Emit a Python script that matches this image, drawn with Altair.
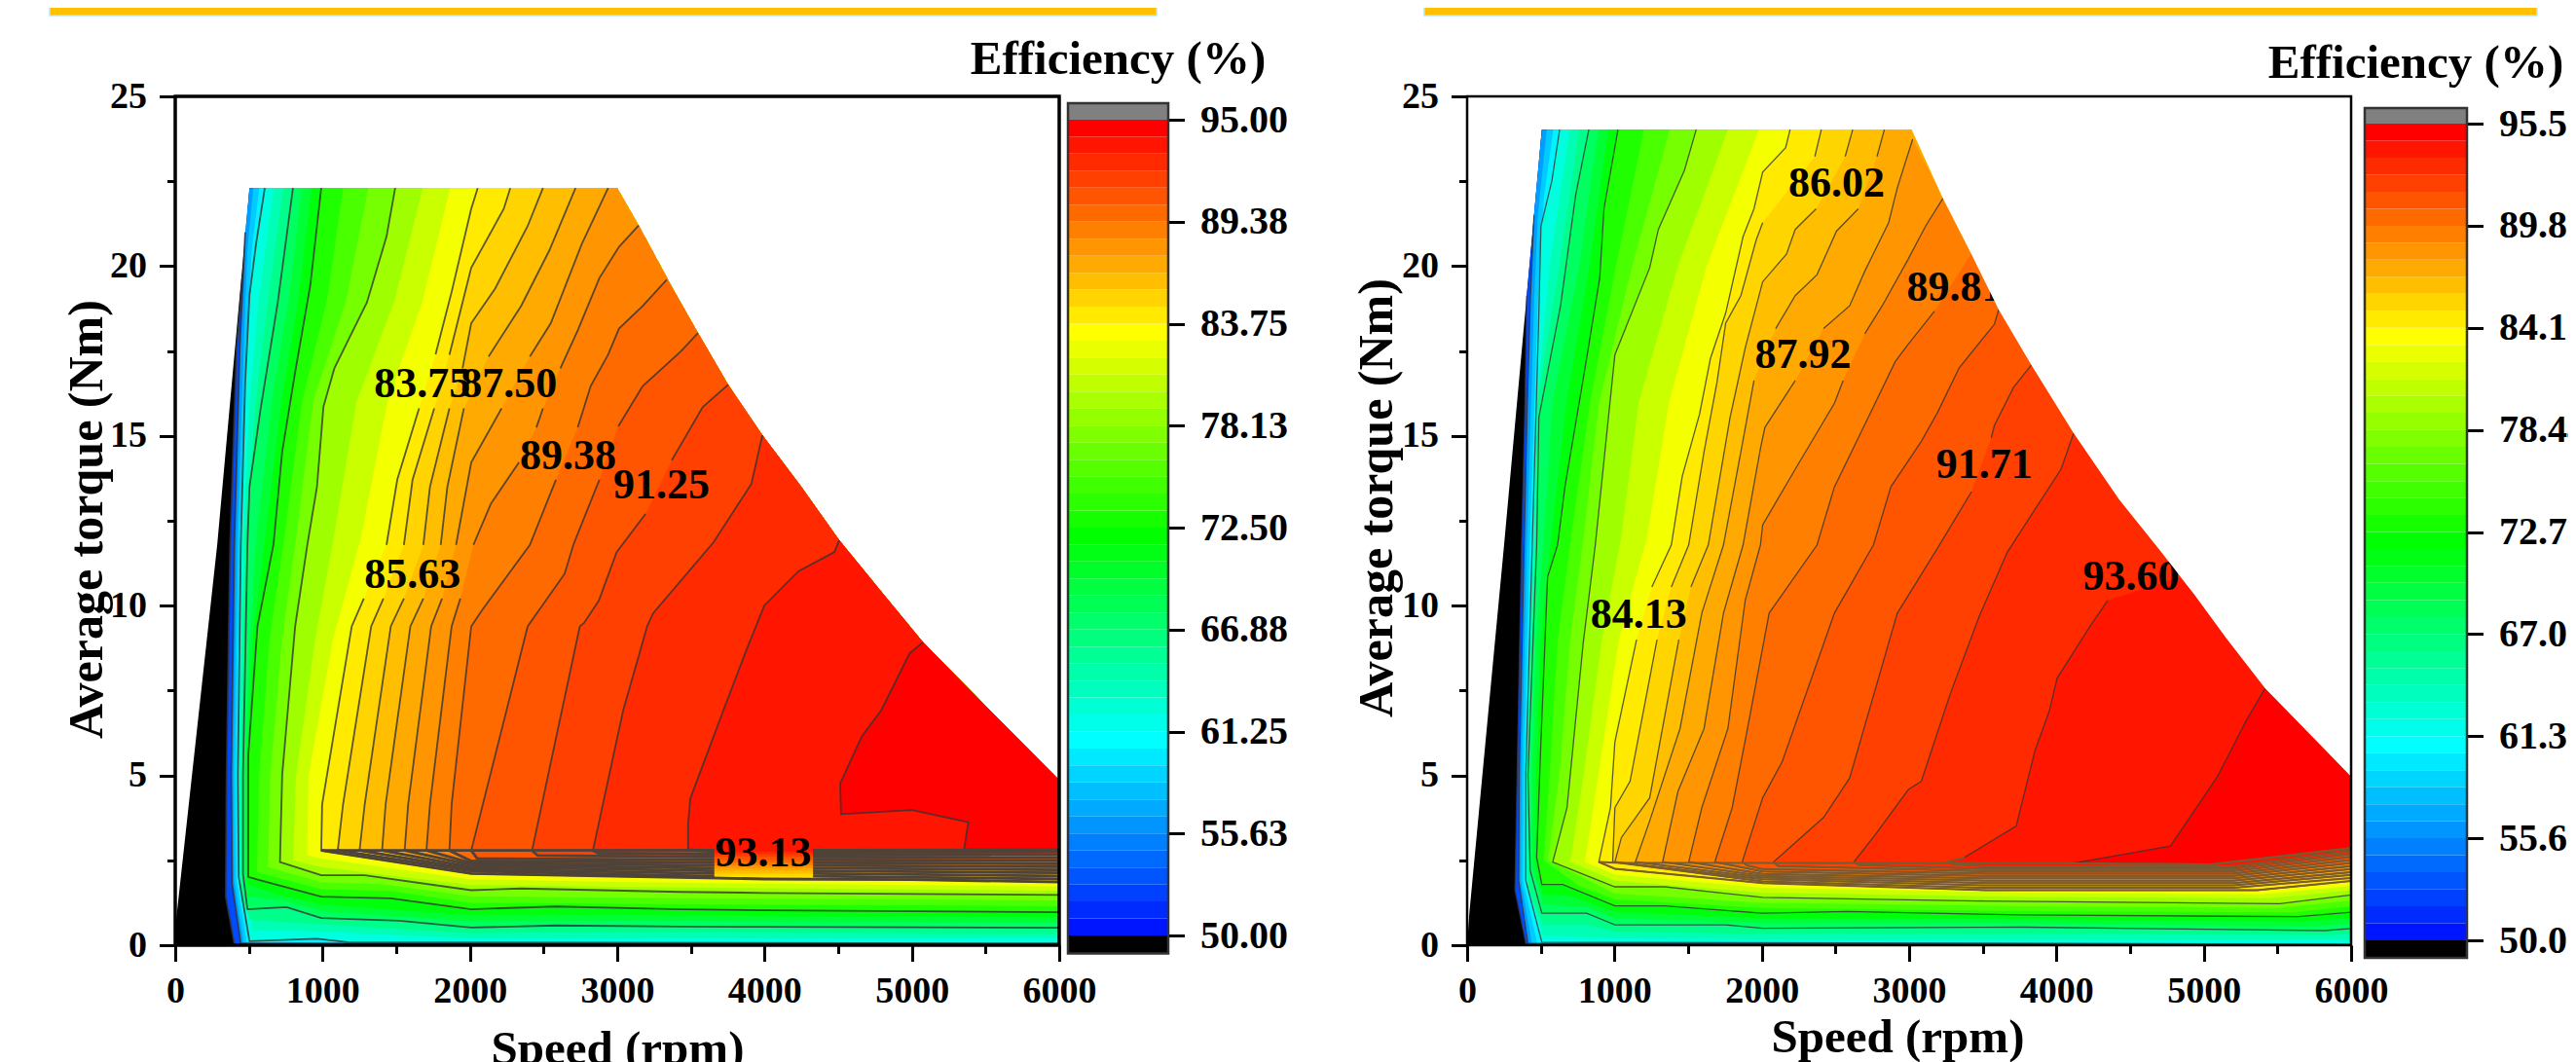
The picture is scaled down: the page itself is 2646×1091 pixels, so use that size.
import altair as alt
import pandas as pd

W, H = 2630, 1083
N = None

# ---------- left panel ----------
P1_TICKS = [50.00, 55.63, 61.25, 66.88, 72.50, 78.13, 83.75, 89.38, 95.00]
P1_BANDS = [50.00,50.94,51.88,52.81,53.75,54.69,55.63,56.56,57.50,58.44,59.38,60.31,61.25,62.19,63.13,64.06,65.00,65.94,66.88,67.81,68.75,69.69,70.63,71.56,72.50,73.44,74.38,75.31,76.25,77.19,78.13,79.06,80.00,80.94,81.88,82.81,83.75,84.69,85.63,86.56,87.50,88.44,89.38,90.31,91.25,92.19,93.13,94.06,95.00]
P1_ENV = [(504,22.3),(3000,22.3),(3145,21.2),(3390,19.24),(3548,18.03),(3753,16.51),(3985,15.02),(4249,13.5),(4507,11.93),(4804,10.35),(5075,8.92),(5531,6.91),(6000,4.86)]
P1_LEFT = [(0,0),(5,0.7),(285,11.8)]
P1_EDGE = [(991,2.79),(3658,2.8),N,(4330,2.8),(6000,2.81)]
P1_CONTOURS = {
 50.00:[(456,19.7),(416,17.6),(372,11.8),(348,5),(342,1.43),(401,.03),(6000,0)],
 55.63:[(475,21.0),(462,19.8),(438,17.6),(401,11.8),(380,5),(386,1.8),(445,.05),(6000,.02)],
 61.25:[(608,22.3),(549,20.67),(504,19.14),(475,16.58),(445,11.8),(425,5),(431,2.01),(504,.12),(962,.19),(1168,.09),(6000,.05)],
 66.88:[(799,22.3),(696,18.93),(578,15.76),(504,13.5),(490,11.8),(460,5),(460,2.1),(490,1.06),(755,1.12),(991,.8),(1522,.72),(2009,.52),(2584,.58),(3434,.55),(4000,.54),(6000,.51)],
 72.50:[(991,22.3),(917,19.44),(814,16.88),(726,14.53),(667,11.8),(558,9.39),(496,5.6),(496,2.01),(578,1.91),(991,1.43),(1463,1.38),(2009,1.06),(2584,1.14),(3434,1.06),(4000,1.03),(6000,.97)],
 78.13:[(1493,22.3),(1434,20.87),(1301,18.93),(1080,16.99),(1006,15.86),(962,13.5),(897,11.8),(814,9.39),(726,5.02),(711,2.45),(991,2.06),(1286,2.06),(2009,1.62),(2348,1.67),(3434,1.57),(4000,1.54),(6000,1.48)],
 83.75:[(2053,22.3),(2009,21.69),(1876,19.24),(1767,17.4),N,(1655,15.81),(1507,13.71),(1434,11.79),N,(1280,10.21),(1198,9.39),(997,4.15),(991,2.79),(2009,2.11),(3434,2.0),(4000,1.95),(5000,1.93),(6000,1.86)],
 84.69:[(2274,22.3),(2230,21.69),(2009,19.95),(1861,17.39),N,(1758,15.81),(1611,13.71),(1552,11.79),N,(1413,10.21),(1330,9.39),(1139,4.15),(1103,2.79),(2009,2.18),(3658,2.03),N,(4330,2.03),(6000,1.95)],
 85.63:[(2496,22.3),(2392,21.18),(2171,19.34),(2009,18.32),(1950,16.99),N,(1861,15.81),(1729,13.5),(1684,11.79),N,(1552,10.21),(1463,9.39),(1286,4.15),(1251,2.79),(2009,2.24),(3658,2.11),N,(4330,2.11),(6000,2.04)],
 86.56:[(2717,22.3),(2540,20.47),(2348,18.83),(2127,17.34),N,(1959,15.81),(1847,13.5),(1802,11.79),N,(1684,10.21),(1596,9.39),(1428,4.15),(1404,2.79),(2009,2.30),(3658,2.19),N,(4330,2.19),(6000,2.13)],
 87.50:[(2938,22.3),(2761,20.67),(2549,18.32),(2407,17.34),N,(2215,15.81),(2009,14.22),(1906,11.79),N,(1811,10.21),(1737,9.39),(1581,4.15),(1557,2.79),(2009,2.36),(3658,2.27),N,(4330,2.27),(6000,2.22)],
 88.44:[(3145,21.2),(3012,20.57),(2879,19.65),(2732,18.11),(2614,16.99),N,(2496,15.81),(2451,15.25),N,(2333,14.22),(2142,13.0),(2024,11.79),N,(1935,10.21),(1876,9.39),(1729,4.15),(1705,2.79),(2009,2.42),(3658,2.35),N,(4330,2.35),(6000,2.31)],
 89.38:[(3336,19.6),(3174,18.83),(3012,18.16),(2938,17.39),(2820,16.47),(2732,15.25),N,(2584,13.71),(2407,11.79),(2083,9.87),(2009,9.39),(1876,4.15),(1861,2.79),(2009,2.48),(3658,2.43),N,(4330,2.43),(6000,2.40)],
 90.31:[(3548,18.03),(3434,17.5),(3172,16.46),(3007,15.28),N,(2879,13.71),(2702,11.79),(2643,10.94),(2392,9.39),(2088,4.15),(2009,2.79),(2050,2.55),(3658,2.51),N,(4330,2.51),(6000,2.49)],
 91.25:[(3753,16.51),(3581,15.85),(3370,14.28),N,(3192,12.7),(2996,11.58),(2875,10.15),(2775,9.49),(2746,9.39),(2422,2.79),(2460,2.64),(3658,2.60),N,(4330,2.60),(6000,2.58)],
 92.19:[(3985,15.02),(3911,13.59),(3654,11.87),(3244,9.78),(3203,9.39),(3040,6.91),(2835,2.79),(2870,2.71),(3658,2.68),N,(4330,2.68),(6000,2.67)],
 93.13:[(4507,11.93),(4474,11.58),(4229,11.01),(3998,10.0),(3879,8.72),(3720,6.91),(3496,4.32),(3481,3.57),(3481,2.81),(3658,2.76),N,(4330,2.76),(6000,2.76)],
 94.06:[(5075,8.92),(4985,8.6),(4791,6.91),(4661,6.16),(4513,4.76),(4519,3.86),(5000,3.98),(5383,3.62),(5354,2.81),(6000,2.81)],
}
# colour steps seen between the drawn contour lines (no line of their own)
P1_SHADES = {
 57.50:[(530,22.3),(490,20.5),(468,18),(420,11.8),(395,5),(400,1.9),(465,.05),(6000,.03)],
 59.38:[(570,22.3),(520,20.5),(488,18),(435,11.8),(410,5),(415,1.95),(485,.09),(6000,.04)],
 63.13:[(668,22.3),(565,19),(505,16),(460,12),(445,9),(435,5),(440,1.8),(530,.45),(1000,.4),(2000,.2),(3000,.2),(6000,.2)],
 65.00:[(733,22.3),(630,19),(545,16),(475,12),(458,9),(447,5),(450,1.4),(510,.75),(1000,.6),(2000,.36),(3000,.38),(6000,.35)],
 68.75:[(860,22.3),(770,19),(655,16),(550,12),(505,9),(472,5),(480,1.45),(750,1.3),(991,1.0),(2000,.7),(3000,.72),(6000,.66)],
 70.63:[(925,22.3),(835,19),(720,16),(610,12),(525,9),(482,5),(488,1.8),(700,1.5),(991,1.2),(2000,.88),(3000,.89),(6000,.82)],
 74.38:[(1140,22.3),(1030,19),(860,16),(740,12),(640,9),(570,5),(555,2.15),(991,1.65),(1463,1.6),(2000,1.25),(3000,1.22),(6000,1.15)],
 76.25:[(1310,22.3),(1160,19),(935,16),(820,12),(725,9),(645,5),(630,2.3),(991,1.85),(1400,1.8),(2000,1.44),(3000,1.4),(6000,1.32)],
 80.00:[(1680,22.3),(1490,19),(1230,16),(1075,12),(950,9),(820,5),(800,2.5),(991,2.3),(2000,1.78),(3000,1.72),(6000,1.6)],
 81.88:[(1865,22.3),(1680,19),(1440,16),(1260,12),(1070,9),(905,5),(895,2.65),(991,2.55),(2000,1.94),(3000,1.86),(6000,1.73)],
}
P1_LABELS = [("83.75",1676,16.5),("87.50",2265,16.5),("85.63",1610,10.9),("89.38",2667,14.4),("91.25",3301,13.54),("93.13",3991,2.7)]

# ---------- right panel ----------
P2_TICKS = [50.00, 55.69, 61.38, 67.06, 72.75, 78.44, 84.13, 89.81, 95.50]
P2_BANDS = [50.00,50.95,51.90,52.84,53.79,54.74,55.69,56.64,57.58,58.53,59.48,60.43,61.38,62.32,63.27,64.22,65.17,66.11,67.06,68.01,68.96,69.91,70.85,71.80,72.75,73.70,74.65,75.59,76.54,77.49,78.44,79.39,80.33,81.28,82.23,83.18,84.13,85.07,86.02,86.97,87.92,88.86,89.81,90.76,91.71,92.66,93.60,94.55,95.50]
P2_ENV = [(507,24.02),(3018,24.02),(3230,22.0),(3422,20.36),(3608,18.72),(3830,17.09),(4117,15.08),(4425,13.13),(4711,11.58),(4932,10.35),(5174,8.92),(5416,7.57),(6000,4.97)]
P2_LEFT = [(0,0),(15,.94),(251,11.8)]
P2_EDGE = [(894,2.45),(1003,2.43),(4110,2.41),(5055,2.38),(6000,2.86)]
P2_CONTOURS = {
 50.00:[(404,19.13),(392,15.86),(369,11.8),(339,5.02),(324,1.62),(398,.05),(6000,0)],
 55.69:[(454,21.5),(430,19.13),(408,15.86),(387,11.79),(354,5.02),(350,1.9),(413,.05),(6000,.01)],
 61.38:[(628,24.02),(575,22.51),(501,21.18),(487,18.62),(442,11.79),(398,5.02),(398,1.91),(507,.09),(6000,.03)],
 67.06:[(826,24.02),(737,22.1),(634,18.83),(487,15.55),(472,11.79),(413,5.02),(428,2.2),(507,.94),(811,.94),(1003,.6),(1755,.6),(2006,.5),(3785,.53),(5821,.43),(6000,.49)],
 72.75:[(1024,24.02),(929,21.69),(900,19.65),(796,16.88),(664,13.5),(614,11.79),(546,10.84),(501,5.99),(472,2.59),(507,1.79),(649,1.79),(1003,1.16),(1342,1.16),(2006,.94),(2581,.99),(3785,.89),(5642,.84),(6000,.97)],
 78.44:[(1555,24.02),(1475,22.82),(1298,21.08),(1239,19.95),(1003,17.39),(870,11.79),(788,8.9),(678,4.05),(581,2.45),(1003,1.72),(1342,1.72),(2006,1.41),(3522,1.3),(5515,1.22),(6000,1.48)],
 84.13:[(2192,24.02),(2162,23.49),(2006,22.77),(1947,21.69),(1873,20.87),(1755,18.62),(1652,17.29),(1578,15.65),(1460,13.81),(1386,11.79),(1254,10.55),N,(1150,9.0),(1003,5.99),(973,4.05),(894,2.45),(1003,2.25),(2006,1.83),(3522,1.62),(5361,1.62),(6000,1.89)],
 85.07:[(2404,24.02),(2360,23.23),N,(2006,21.28),(1962,20.77),(1858,19.13),(1755,18.32),(1696,16.58),(1608,14.53),(1504,11.79),(1386,10.55),N,(1289,9.0),(1106,4.83),(1003,4.05),(988,2.45),(2006,1.88),(3522,1.69),(5200,1.69),(6000,1.98)],
 86.02:[(2617,24.02),(2566,23.23),N,(2369,21.69),(2227,21.08),(2168,20.36),(2006,19.54),(1888,17.6),(1785,15.55),(1637,11.79),(1519,10.55),N,(1437,9.0),(1239,4.34),(1047,3.17),(1003,2.45),(2006,1.94),(3522,1.76),(5200,1.76),(6000,2.07)],
 86.97:[(2832,24.02),(2782,23.23),N,(2655,21.69),(2507,21.03),(2375,19.75),(2227,19.13),(2094,18.16),N,(1947,16.63),(1858,14.53),(1740,11.79),(1593,9.78),(1445,6.38),(1239,3.66),(1142,2.45),(2006,1.99),(3522,1.83),(5200,1.83),(6000,2.15)],
 87.92:[(3024,23.74),(2920,22.31),(2861,21.28),(2699,19.85),(2596,18.83),(2419,18.16),N,(2227,16.63),(2021,15.25),(1991,14.63),(1873,11.79),(1740,9.78),(1608,6.38),(1431,4.53),(1327,2.45),(2006,2.04),(3522,1.90),(5200,1.90),(6000,2.24)],
 88.86:[(3230,22.0),(3112,21.18),(2994,20.21),(2817,18.83),(2699,18.01),N,(2552,16.63),(2493,15.96),(2227,14.02),(2006,12.38),(1991,11.79),(1888,10.17),(1770,6.38),(1593,4.05),(1504,2.45),(2006,2.10),(3522,1.97),(5200,1.97),(6000,2.33)],
 89.81:[(3422,20.36),N,(3171,18.67),(2994,17.7),(2906,17.19),(2758,15.86),(2493,13.5),(2375,11.79),(2050,9.78),(1903,6.38),(1799,4.05),(1681,2.45),(2006,2.17),(3522,2.04),(5200,2.04),(6000,2.42)],
 90.76:[(3608,18.72),(3579,18.29),(3339,17.0),(3194,15.7),(3083,14.84),(2876,13.5),(2758,11.79),(2493,9.78),(2139,5.41),(2006,4.34),(1867,2.45),(1900,2.35),(2006,2.24),(3522,2.11),(5200,2.11),(6000,2.51)],
 91.71:[(3830,17.09),(3709,16.43),(3579,15.31),(3557,14.94),N,(3424,13.36),(3194,11.7),(2920,9.78),(2596,4.92),(2419,3.76),(2080,2.45),(2110,2.33),(3522,2.18),(5200,2.18),(6000,2.60)],
 92.66:[(4117,15.08),(4031,14.02),(3667,11.58),(3476,9.69),(3279,7.4),(3083,4.83),(2994,4.58),(2773,3.27),(2625,2.45),(2660,2.36),(3522,2.25),(5200,2.25),(6000,2.69)],
 93.60:[(4832,10.84),N,(4348,10.15),(4229,9.4),(4004,7.86),(3952,6.9),(3854,5.73),(3727,3.51),(3378,2.59),(3260,2.45),(3290,2.40),(3522,2.32),(5200,2.32),(6000,2.78)],
 94.55:[(5416,7.57),(5285,6.59),(5093,4.97),(4774,2.92),(4110,2.41),(5055,2.38),(6000,2.86)],
}
P2_SHADES = {
 57.58:[(540,24.02),(480,21.5),(455,19),(405,11.8),(370,5),(365,1.9),(440,.05),(6000,.02)],
 59.48:[(585,24.02),(520,22),(480,19),(425,11.8),(385,5),(380,1.9),(475,.07),(6000,.03)],
 63.27:[(695,24.02),(560,20),(473,16),(452,12),(428,9),(403,5),(405,1.8),(520,.28),(1003,.2),(2006,.17),(3785,.17),(6000,.16)],
 65.17:[(760,24.02),(625,20),(477,16),(462,12),(434,9),(408,5),(415,1.6),(515,.6),(811,.6),(1003,.4),(2006,.33),(3785,.35),(5821,.3),(6000,.33)],
 68.96:[(890,24.02),(760,20),(580,16),(520,12),(470,9),(440,5),(445,2.3),(520,1.2),(811,1.12),(1003,.79),(2006,.65),(3785,.65),(5800,.55),(6000,.65)],
 70.85:[(957,24.02),(830,20),(675,16),(570,12),(500,9),(468,5),(460,2.45),(515,1.5),(700,1.45),(1003,.98),(2006,.79),(3785,.77),(5700,.7),(6000,.81)],
 74.65:[(1200,24.02),(1010,20),(835,16),(705,12),(615,9),(560,5),(520,2.5),(760,1.75),(1003,1.35),(2006,1.1),(3785,1.0),(5600,.97),(6000,1.14)],
 76.54:[(1375,24.02),(1120,20),(895,16),(790,12),(700,9),(625,5),(550,2.5),(850,1.85),(1003,1.52),(2006,1.25),(3785,1.15),(5500,1.1),(6000,1.31)],
 80.33:[(1770,24.02),(1430,20),(1165,16),(1045,12),(915,9),(790,5),(700,2.45),(1003,1.9),(2006,1.55),(3785,1.42),(5450,1.38),(6000,1.62)],
 82.23:[(1980,24.02),(1625,20),(1370,16),(1220,12),(1030,9),(890,5),(800,2.45),(1003,2.08),(2006,1.69),(3785,1.55),(5400,1.5),(6000,1.75)],
}
P2_LABELS = [("84.13",1165,9.73),("86.02",2507,22.41),("87.92",2280,17.37),("89.81",3310,19.34),("91.71",3510,14.12),("93.60",4506,10.83)]

SERIF = "Liberation Serif"
RAMP = ["#0000ff", "#00ffff", "#00ff00", "#ffff00", "#ff0000"]


def panel(contours, shades, env, left, bands, ticks, labels, px, bar, frame_w, ytitle, xtitle, strip, mask, effy, band):
    x0, x1 = px
    y0, y1 = 971 - 8, 99 - 8
    xr = [x0 - 8, x1 - 8]
    yr = [y0, y1]
    xs = alt.Scale(domain=[0, 6000], range=xr, nice=False, zero=False)
    ys = alt.Scale(domain=[0, 25], range=yr, nice=False, zero=False)
    lo, hi = bands[0], bands[-1]
    cs = alt.Scale(domain=[lo, lo + (hi - lo) / 4, lo + (hi - lo) / 2, lo + 3 * (hi - lo) / 4, hi], range=RAMP, interpolate="rgb")
    step = bands[1] - bands[0]

    def X(**k):
        return alt.X("x:Q", scale=xs, axis=k.get("axis", None))

    def Y(**k):
        return alt.Y("y:Q", scale=ys, axis=k.get("axis", None))

    # fills, painted from the lowest level up
    merged = {**contours, **shades}
    levels = sorted(merged)
    poly, seg, dense = [], [], []
    sid = 0
    for n, lev in enumerate(levels):
        pts = merged[lev]
        upper = levels[n + 1] if n + 1 < len(levels) else hi
        shade = min(hi, (lev + upper) / 2 + step / 2)
        clean = [p for p in pts if p is not None]
        closing = [e for e in reversed(env) if e[0] > clean[0][0]]
        for i, (a, b) in enumerate(clean + closing):
            poly.append({"x": a, "y": b, "p": n, "i": i, "c": shade})
        if lev in contours:
            sid += 1
            i = 0
            for p in pts:
                if p is None:
                    sid += 1
                    continue
                row = {"x": p[0], "y": p[1], "s": sid, "i": i}
                seg.append(row)
                if lev >= band["from"] and p[1] <= band["below"]:
                    dense.append(row)
                i += 1
    sid += 1
    for i, p in enumerate(band["edge"]):
        if p is None:
            sid += 1
            continue
        dense.append({"x": p[0], "y": p[1], "s": sid, "i": i})

    outline = left + env + [(6000, 0)]
    base = alt.Chart(pd.DataFrame([{"x": a, "y": b, "i": i} for i, (a, b) in enumerate(outline)])).mark_line(
        filled=True, color="black", clip=False
    ).encode(x=X(), y=Y(), order="i:Q")
    fills = alt.Chart(pd.DataFrame(poly)).mark_line(filled=True).encode(
        x=X(), y=Y(), order="i:Q", detail="p:N",
        color=alt.Color("c:Q", scale=cs, legend=None),
    )
    lines = alt.Chart(pd.DataFrame(seg)).mark_line(color="#333333", strokeWidth=band["line"], opacity=0.8).encode(
        x=X(), y=Y(), order="i:Q", detail="s:N"
    )
    dense_lines = alt.Chart(pd.DataFrame(dense)).mark_line(color=band["color"], strokeWidth=band["width"]).encode(
        x=X(), y=Y(), order="i:Q", detail="s:N"
    )
    texts = alt.Chart(pd.DataFrame([{"t": t, "x": a, "y": b} for t, a, b in labels])).mark_text(
        font=SERIF, fontWeight="bold", fontSize=44, color="black"
    ).encode(x=X(), y=Y(), text="t:N")

    layers = [base, fills, lines, dense_lines, texts]
    if mask:
        m = [(env[1][0], 25)] + env[1:] + [(6000, 25)]
        layers.append(alt.Chart(pd.DataFrame([{"x": a, "y": b, "i": i} for i, (a, b) in enumerate(m)])).mark_line(
            filled=True, color="white").encode(x=X(), y=Y(), order="i:Q"))

    fr = pd.DataFrame([{"x": 0, "x2": 6000, "y": 0, "y2": 25}])
    common = dict(grid=False, domain=False, tickColor="black", tickWidth=3,
                  labelFont=SERIF, labelFontWeight="bold", labelColor="black", labelOverlap=False,
                  labelFlush=False, labelBound=False)
    xaxis = alt.Axis(orient="bottom", offset=-(H - y0), values=[0, 1000, 2000, 3000, 4000, 5000, 6000], tickSize=16.5,
                     labelFontSize=38, labelPadding=12, title="Speed (rpm)", titleFont=SERIF, titleFontWeight="bold",
                     titleFontSize=49, titleColor="black", titleX=xtitle[0], titleY=xtitle[1], titleAlign="center",
                     titleBaseline="alphabetic", format="d", **common)
    yaxis = alt.Axis(orient="left", offset=-(x0 - 8), values=[0, 5, 10, 15, 20, 25], tickSize=16.5,
                     labelFontSize=38, labelPadding=13, title="Average torque (Nm)", titleFont=SERIF, titleFontWeight="bold",
                     titleFontSize=50, titleColor="black", titleX=ytitle[0], titleY=ytitle[1], titleAlign="center",
                     titleAngle=-90, titleBaseline="middle", format="d", **common)
    layers.append(alt.Chart(fr).mark_rect(filled=False, stroke="black", strokeWidth=frame_w).encode(
        x=alt.X("x:Q", scale=xs, axis=xaxis), x2="x2:Q", y=alt.Y("y:Q", scale=ys, axis=yaxis), y2="y2:Q"))
    xminor = alt.Axis(orient="bottom", offset=-(H - y0), values=[500, 1500, 2500, 3500, 4500, 5500], tickSize=8.5, labels=False, title=None,
                      grid=False, domain=False, tickColor="black", tickWidth=3)
    yminor = alt.Axis(orient="left", offset=-(x0 - 8), values=[2.5, 7.5, 12.5, 17.5, 22.5], tickSize=8.5, labels=False, title=None,
                      grid=False, domain=False, tickColor="black", tickWidth=3)
    layers.append(alt.Chart(fr).mark_rect(opacity=0).encode(
        x=alt.X("x:Q", scale=xs, axis=xminor), x2="x2:Q", y=alt.Y("y:Q", scale=ys, axis=yminor), y2="y2:Q"))

    # header strip
    layers.append(alt.Chart(pd.DataFrame([{"x": strip[0], "x2": strip[1], "y": 27.38, "y2": 28.2}])).mark_rect(
        color="#ffc000", stroke="#bfe3ef", strokeWidth=1.5).encode(x=X(), x2="x2:Q", y=Y(), y2="y2:Q"))

    # colour bar
    bx0, bx1, ytop, ybot, btop, bbot = bar
    bxs = alt.Scale(domain=[0, 1], range=[bx0 - 8, bx1 - 8], nice=False, zero=False)
    bys = alt.Scale(domain=[lo, hi], range=[ybot - 8, ytop - 8], nice=False, zero=False)
    per = (ybot - ytop) / (hi - lo)
    cap_hi = hi + (ytop - btop) / per
    cap_lo = lo - (bbot - ybot) / per
    strips = pd.DataFrame([{"x": 0, "x2": 1, "y": a, "y2": b, "c": b} for a, b in zip(bands[:-1], bands[1:])])
    layers.append(alt.Chart(strips).mark_rect().encode(
        x=alt.X("x:Q", scale=bxs, axis=None), x2="x2:Q", y=alt.Y("y:Q", scale=bys, axis=None), y2="y2:Q",
        color=alt.Color("c:Q", scale=cs, legend=None)))
    caps = pd.DataFrame([{"x": 0, "x2": 1, "y": hi, "y2": cap_hi, "c": "#808080"}, {"x": 0, "x2": 1, "y": cap_lo, "y2": lo, "c": "#000000"}])
    layers.append(alt.Chart(caps).mark_rect().encode(
        x=alt.X("x:Q", scale=bxs, axis=None), x2="x2:Q", y=alt.Y("y:Q", scale=bys, axis=None), y2="y2:Q",
        color=alt.Color("c:N", scale=None)))
    baxis = alt.Axis(orient="right", offset=-(W - (bx1 - 8)), values=ticks, format=".2f", tickSize=16.5,
                     labelFontSize=40, labelPadding=16, title=None, **common)
    outline_bar = pd.DataFrame([{"x": 0, "x2": 1, "y": cap_lo, "y2": cap_hi}])
    layers.append(alt.Chart(outline_bar).mark_rect(filled=False, stroke="#333333", strokeWidth=2.5).encode(
        x=alt.X("x:Q", scale=bxs, axis=None), x2="x2:Q", y=alt.Y("y:Q", scale=bys, axis=baxis), y2="y2:Q"))
    layers.append(alt.Chart(pd.DataFrame([{"x": 0.5, "y": effy, "t": "Efficiency (%)"}])).mark_text(
        font=SERIF, fontWeight="bold", fontSize=49, color="black").encode(
        x=alt.X("x:Q", scale=bxs, axis=None), y=alt.Y("y:Q", scale=bys, axis=None), text="t:N"))
    return layers


left_layers = panel(P1_CONTOURS, P1_SHADES, P1_ENV, P1_LEFT, P1_BANDS, P1_TICKS, P1_LABELS, (180, 1088),
                    (1097, 1200, 123, 961, 106, 979.5), 3.5, (-91, 525), (626, 121), (-852, 6661), False, 98.33,
                    {"from": 83.75, "below": 2.85, "width": 2.8, "color": "#4f4339", "line": 1.8, "edge": P1_EDGE})
right_layers = panel(P2_CONTOURS, P2_SHADES, P2_ENV, P2_LEFT, P2_BANDS, P2_TICKS, P2_LABELS, (1507, 2415),
                     (2429, 2534, 127, 966, 111, 984), 2.5, (-93, 503), (1941, 109), (-291, 7262), True, 98.88,
                     {"from": 84.13, "below": 2.9, "width": 2.0, "color": "#7a5a30", "line": 1.3, "edge": P2_EDGE})

chart = alt.layer(*left_layers, *right_layers).resolve_scale(
    x="independent", y="independent", color="independent"
).resolve_axis(x="independent", y="independent").properties(
    width=W, height=H, padding=0, autosize=alt.AutoSizeParams(type="none"), background="white"
).configure_view(stroke=None)

chart.save("out.html", embed_options={"renderer": "svg", "actions": False})
